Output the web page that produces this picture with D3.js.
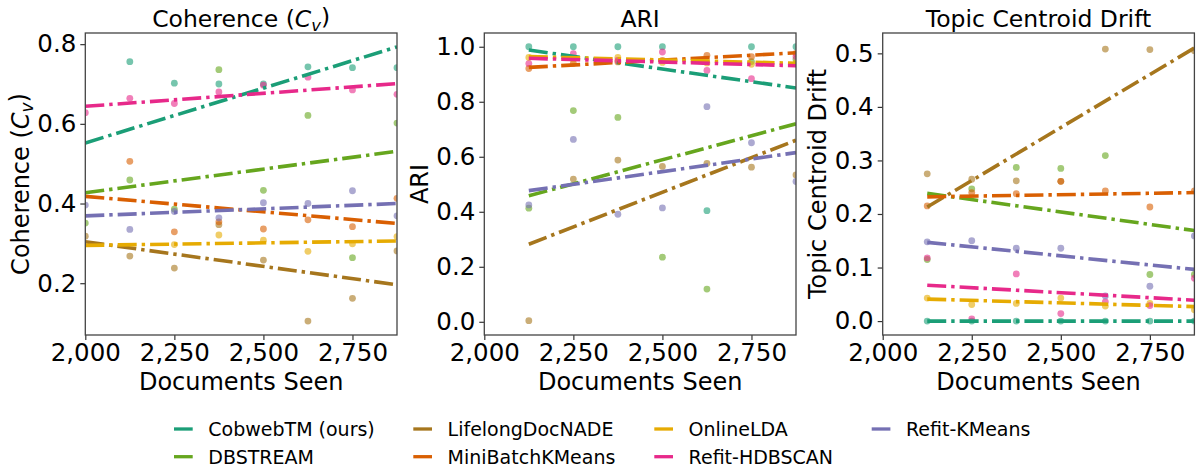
<!DOCTYPE html>
<html>
<head>
<meta charset="utf-8">
<script src="https://cdn.jsdelivr.net/npm/d3@7"></script>
<style>
  body { margin: 0; background: #fff; }
  svg text { font-family: "DejaVu Sans", sans-serif; fill: #000; }
</style>
</head>
<body>
<div id="chart"></div>
<script>
// methods, legend order
var methods = ["CobwebTM (ours)", "DBSTREAM", "LifelongDocNADE", "MiniBatchKMeans", "OnlineLDA", "Refit-HDBSCAN", "Refit-KMeans"];
var docsSeen = [2000, 2125, 2250, 2375, 2500, 2625, 2750, 2875];
var xTicks = [2000, 2250, 2500, 2750];

// one row per method, one value per docsSeen (null = not shown)
var coherence = [
  [null, 0.756, 0.702, 0.700, 0.700, 0.743, 0.741, 0.741],
  [0.351, 0.459, 0.386, 0.736, 0.433, 0.621, 0.264, 0.602],
  [0.318, 0.268, 0.238, 0.347, 0.258, 0.105, 0.162, 0.281],
  [null, 0.506, 0.329, 0.354, 0.336, 0.359, 0.342, 0.413],
  [null, null, 0.297, 0.321, 0.308, 0.280, 0.299, 0.317],
  [0.628, 0.664, 0.651, 0.680, 0.697, 0.717, 0.685, 0.674],
  [0.396, 0.335, 0.380, 0.364, 0.402, 0.400, 0.432, 0.369]
];
var ari = [
  [null, 1.0, 1.0, 1.0, 1.0, 0.404, 1.0, 1.0],
  [null, 0.413, 0.768, 0.743, 0.235, 0.119, 0.946, 0.955],
  [null, 0.004, 0.519, 0.588, 0.565, 0.576, 0.562, 0.534],
  [null, 0.921, 0.940, 0.945, 0.950, 0.969, 0.964, 0.976],
  [null, 0.961, 0.955, 0.961, 0.943, 0.941, 0.936, 0.940],
  [null, 0.939, 0.975, 0.950, 0.981, 0.914, 0.884, 0.965],
  [null, 0.425, 0.663, 0.391, 0.414, 0.782, 0.651, 0.510]
];
var drift = [
  [null, 0, 0, 0, 0, 0, 0, 0],
  [null, 0.115, 0.247, 0.287, 0.285, 0.309, 0.087, 0.087],
  [null, 0.275, 0.265, 0.262, 0.261, 0.508, 0.507, 0.505],
  [null, 0.215, 0.240, 0.238, 0.261, 0.243, 0.213, 0.243],
  [null, 0.043, 0.031, 0.033, 0.043, 0.028, 0.033, 0.021],
  [null, 0.118, 0.004, 0.088, 0.014, 0.036, 0.029, 0.080],
  [null, 0.148, 0.150, 0.136, 0.136, 0.047, 0.065, 0.159]
];

// trend lines: [value at first doc count, value at 2875]
var coherenceFit = [[0.552, 0.793], [0.427, 0.531], [0.304, 0.196], [0.418, 0.350], [0.295, 0.306], [0.644, 0.701], [0.369, 0.400]];
var ariFit = [[0.988, 0.850], [0.458, 0.720], [0.282, 0.660], [0.925, 0.978], [0.964, 0.940], [0.958, 0.931], [0.477, 0.615]];
var driftFit = [[0, 0], [0.2385, 0.169], [0.213, 0.510], [0.232, 0.240], [0.041, 0.027], [0.067, 0.039], [0.147, 0.0965]];

var color = d3.scaleOrdinal()
    .domain(methods)
    .range(["#1b9e77", "#66a61e", "#a6761d", "#d95f02", "#e6ab02", "#e7298a", "#7570b3"]);

var W = 1198, H = 471;
var svg = d3.select("#chart").append("svg")
    .attr("width", W).attr("height", H);

var plotTop = 33, plotBottom = 335, pw = 311.7;

var panels = [
  {left: 85.3, title: "coh", ylab: "coh", values: coherence, fit: coherenceFit, fitStart: 2000,
   domain: [0.07, 0.828], ticks: [0.2, 0.4, 0.6, 0.8], labX: 20},
  {left: 484.3, title: "ARI", ylab: "ARI", values: ari, fit: ariFit, fitStart: 2125,
   domain: [-0.048, 1.05], ticks: [0, 0.2, 0.4, 0.6, 0.8, 1.0], labX: 419},
  {left: 882.7, title: "Topic Centroid Drift", ylab: "Topic Centroid Drift", values: drift, fit: driftFit, fitStart: 2125,
   domain: [-0.026, 0.538], ticks: [0, 0.1, 0.2, 0.3, 0.4, 0.5], labX: 817}
];

function cvText(sel) {
  sel.append("tspan").text("Coherence (");
  sel.append("tspan").attr("font-style", "italic").text("C");
  sel.append("tspan").attr("font-style", "italic").attr("font-size", "0.7em").attr("dy", "0.22em").text("v");
  sel.append("tspan").attr("dy", "-0.22em").text(")");
}

panels.forEach(function(p, pi) {
  var x = d3.scaleLinear().domain([2000, 2875]).range([p.left, p.left + pw]);
  var y = d3.scaleLinear().domain(p.domain).range([plotBottom, plotTop]);

  var clipId = "clip" + pi;
  svg.append("clipPath").attr("id", clipId)
    .append("rect").attr("x", p.left).attr("y", plotTop).attr("width", pw).attr("height", plotBottom - plotTop);

  var plot = svg.append("g").attr("clip-path", "url(#" + clipId + ")");

  // scatter points
  methods.forEach(function(m, mi) {
    var pts = docsSeen.map(function(d, i) { return {x: d, y: p.values[mi][i]}; })
        .filter(function(d) { return d.y !== null; });
    plot.selectAll(".pt" + mi)
      .data(pts)
      .enter().append("circle")
        .attr("cx", function(d) { return x(d.x); })
        .attr("cy", function(d) { return y(d.y); })
        .attr("r", 3.4)
        .attr("fill", color(m))
        .attr("fill-opacity", 0.6);
  });

  // trend lines
  methods.forEach(function(m, mi) {
    var f = p.fit[mi];
    plot.append("line")
      .attr("x1", x(p.fitStart)).attr("y1", y(f[0]))
      .attr("x2", x(2875)).attr("y2", y(f[1]))
      .attr("stroke", color(m))
      .attr("stroke-width", 3.6)
      .attr("stroke-dasharray", "19,5,3.4,5");
  });

  // axes
  var xAxis = svg.append("g")
    .attr("transform", "translate(0," + plotBottom + ")")
    .call(d3.axisBottom(x).tickValues(xTicks).tickFormat(d3.format(",")).tickSize(5).tickPadding(4));
  var yAxis = svg.append("g")
    .attr("transform", "translate(" + p.left + ",0)")
    .call(d3.axisLeft(y).tickValues(p.ticks).tickFormat(d3.format(".1f")).tickSize(5).tickPadding(4));
  [xAxis, yAxis].forEach(function(a) {
    a.select(".domain").remove();
    a.selectAll("line").attr("stroke", "#333").attr("stroke-width", 1.2);
    a.selectAll("text").attr("font-size", 24.5).attr("font-family", "DejaVu Sans");
  });

  svg.append("rect")
    .attr("x", p.left).attr("y", plotTop).attr("width", pw).attr("height", plotBottom - plotTop)
    .attr("fill", "none").attr("stroke", "#444").attr("stroke-width", 1.3);

  // title
  var t = svg.append("text")
    .attr("x", p.left + pw / 2).attr("y", 27)
    .attr("text-anchor", "middle").attr("font-size", 23.5);
  if (p.title === "coh") cvText(t); else t.text(p.title);

  // x label
  svg.append("text")
    .attr("x", p.left + pw / 2).attr("y", 390)
    .attr("text-anchor", "middle").attr("font-size", 24)
    .text("Documents Seen");

  // y label
  var yl = svg.append("text")
    .attr("transform", "translate(" + (p.labX + 9) + "," + ((plotTop + plotBottom) / 2) + ") rotate(-90)")
    .attr("text-anchor", "middle").attr("font-size", 24);
  if (p.ylab === "coh") cvText(yl); else yl.text(p.ylab);
});

// legend, column-major 2 rows
var legX = [174, 413.3, 654.3, 871.7], legY = [429, 456.7];
var leg = svg.append("g");
methods.forEach(function(m, i) {
  var col = Math.floor(i / 2), row = i % 2;
  var g = leg.append("g").attr("transform", "translate(" + legX[col] + "," + legY[row] + ")");
  g.append("line").attr("x1", 0).attr("x2", 18.7).attr("y1", 0).attr("y2", 0)
    .attr("stroke", color(m)).attr("stroke-width", 3.3);
  g.append("text").attr("x", 34.3).attr("y", 0).attr("dy", "0.36em")
    .attr("font-size", 19).text(m);
});
</script>
</body>
</html>
